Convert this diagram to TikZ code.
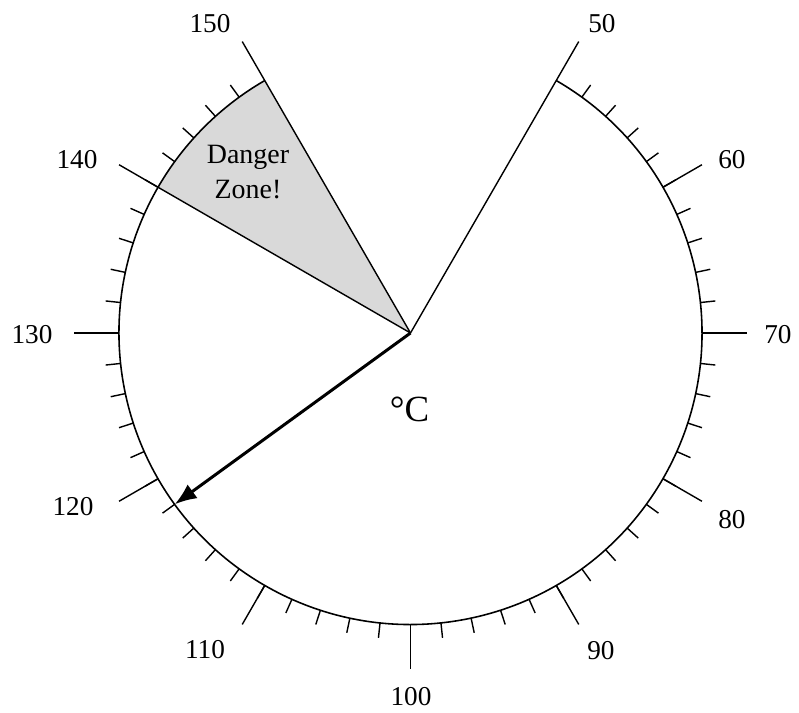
\documentclass[tikz,border=0pt]{standalone}
\usepackage{fontspec}
\setmainfont{Liberation Serif}
\usetikzlibrary{arrows.meta}

\begin{document}
\begin{tikzpicture}[
    dial/.style={line width=0.9pt},
    ticks/.style={line width=0.8pt},
    needle/.style={line width=1.7pt, -{Latex[length=0.44cm, width=0.34cm]}},
    danger/.style={fill=black!15},
    num/.style={font=\fontsize{15.5}{18}\selectfont},
    note/.style={font=\fontsize{15.9}{19.5}\selectfont, align=center},
  ]
  \useasboundingbox (-8.21,-7.6) rectangle (7.77,6.66);
  \def\R{5.83}
  \coordinate (O) at (0,0);
  % danger zone
  \fill[danger] (O) -- (120:\R) arc[start angle=120, end angle=150, radius=\R] -- cycle;
  \node[note] (zone) at (-3.25,3.22) {Danger\\Zone!};
  % dial
  \draw[dial] (60:\R) arc[start angle=60, end angle=-240, radius=\R];
  \foreach \v in {52,54,...,148} {
    \pgfmathsetmacro\a{60-3*(\v-50)}
    \draw[ticks] (\a:\R) -- (\a:6.13);
  }
  \foreach \v in {60,70,...,130} {
    \pgfmathsetmacro\a{60-3*(\v-50)}
    \draw[ticks] (\a:\R) -- (\a:6.73);
  }
  \foreach \v in {50,140,150} {
    \pgfmathsetmacro\a{60-3*(\v-50)}
    \draw[ticks] (O) -- (\a:6.73);
  }
  % scale labels
  \foreach \v/\x/\y in {50/3.83/6.18, 60/6.43/3.46, 70/7.35/-0.04, 80/6.43/-3.74,
      90/3.81/-6.36, 100/0.01/-7.28, 110/-4.11/-6.34, 120/-6.75/-3.48,
      130/-7.57/-0.04, 140/-6.67/3.46, 150/-4.01/6.18}
    \node[num] (l\v) at (\x,\y) {\v};
  % needle
  \coordinate (tip) at (216:\R);
  \draw[needle] (O) -- (tip);
  \node[font=\fontsize{21}{25}\selectfont] (unit) at (-0.02,-1.52) {°C};
\end{tikzpicture}
\end{document}
